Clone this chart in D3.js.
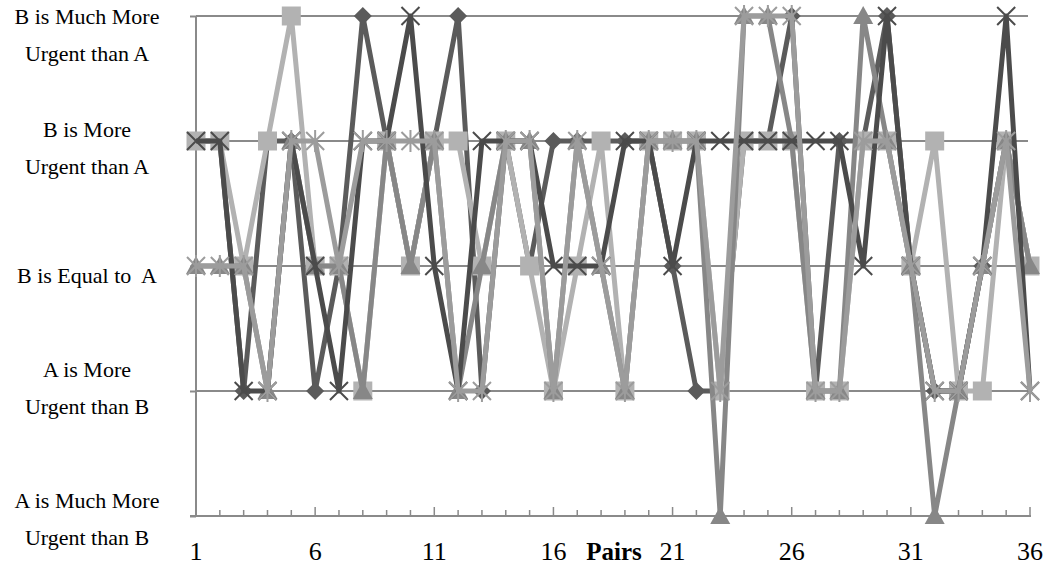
<!DOCTYPE html>
<html>
<head>
<meta charset="utf-8">
<script src="https://cdn.jsdelivr.net/npm/d3@7"></script>
<style>
  html, body { margin: 0; padding: 0; background: #fff; }
  svg { display: block; }
  text { font-family: "Liberation Serif", "Times New Roman", serif; fill: #000; }
</style>
</head>
<body>
<svg id="chart" width="1051" height="565"></svg>
<script>
// Pair numbers along the horizontal axis
const pairs = [1,2,3,4,5,6,7,8,9,10,11,12,13,14,15,16,17,18,19,20,21,22,23,24,25,26,27,28,29,30,31,32,33,34,35,36];
const pairTicks = [1,6,11,16,21,26,31,36];

// Rating scale: 1 = A much more urgent ... 5 = B much more urgent
const levels = [1,2,3,4,5];
const levelLabels = [
  ["A is Much More", "Urgent than B"],
  ["A is More", "Urgent than B"],
  ["B is Equal to  A"],
  ["B is More", "Urgent than A"],
  ["B is Much More", "Urgent than A"]
];

// One rating per pair for each respondent
const diamondSeries = [4,4,2,4,4,2,3,5,4,3,4,5,2,4,3,4,4,4,4,4,3,2,2,4,4,5,2,4,4,5,3,2,2,3,4,3];
const squareSeries  = [4,4,3,4,5,3,3,2,4,3,4,4,3,4,3,2,3,4,2,4,4,4,2,4,4,4,2,2,4,4,3,4,2,2,4,3];
const triangleSeries= [3,3,3,2,4,3,3,2,4,3,4,2,3,4,4,2,4,3,2,4,4,4,1,5,5,4,2,2,5,4,3,1,2,3,4,3];
const crossSeries   = [4,4,2,2,4,3,2,4,4,5,3,2,4,4,4,3,3,3,4,4,3,4,4,4,4,4,4,4,3,5,3,2,2,3,5,2];
const starSeries    = [3,3,3,2,4,4,3,4,4,4,4,2,2,4,4,2,4,3,2,4,4,4,2,5,5,5,2,2,4,4,3,2,2,3,4,2];

const series = [
  { values: diamondSeries,  marker: "diamond",  color: "#5b5b5b" },
  { values: squareSeries,   marker: "square",   color: "#b2b2b2" },
  { values: triangleSeries, marker: "triangle", color: "#878787" },
  { values: crossSeries,    marker: "cross",    color: "#4b4b4b" },
  { values: starSeries,     marker: "star",     color: "#9c9c9c" }
];

const svg = d3.select("#chart");
const plot = { left: 196, right: 1030, top: 16, bottom: 516 };

const x = d3.scaleLinear().domain([1, 36]).range([plot.left, plot.right]);
const y = d3.scaleLinear().domain([1, 5]).range([plot.bottom, plot.top]);

const axisColor = "#8a8a8a";

// Horizontal gridlines at each rating level
svg.append("g")
  .selectAll("line")
  .data(levels.filter(l => l > 1))
  .join("line")
  .attr("x1", plot.left).attr("x2", plot.right - 2)
  .attr("y1", d => y(d)).attr("y2", d => y(d))
  .attr("stroke", axisColor).attr("stroke-width", 2);

// Vertical axis with outward ticks
const yAxis = d3.axisLeft(y).tickValues(levels).tickSize(6).tickFormat("");
const gy = svg.append("g").attr("transform", `translate(${plot.left},0)`).call(yAxis);
gy.select(".domain").attr("stroke", axisColor).attr("stroke-width", 2).attr("d", `M0,${plot.top}V${plot.bottom}`);
gy.selectAll(".tick line").attr("stroke", axisColor).attr("stroke-width", 2);

// Horizontal axis with inward ticks, longer on labelled pairs
const gx = svg.append("g").attr("transform", `translate(0,${plot.bottom})`);
gx.append("line")
  .attr("x1", plot.left - 6).attr("x2", plot.right + 1)
  .attr("y1", 0).attr("y2", 0)
  .attr("stroke", axisColor).attr("stroke-width", 2);
gx.selectAll("line.tick")
  .data(pairs)
  .join("line")
  .attr("class", "tick")
  .attr("x1", d => x(d)).attr("x2", d => x(d))
  .attr("y1", 0).attr("y2", d => pairTicks.includes(d) ? -9 : -6)
  .attr("stroke", axisColor).attr("stroke-width", 1.5);
gx.selectAll("text")
  .data(pairTicks)
  .join("text")
  .attr("x", d => x(d)).attr("y", 44)
  .attr("text-anchor", "middle")
  .attr("font-size", 26)
  .text(d => d);

// Axis title sits between 16 and 21
svg.append("text")
  .attr("x", (x(16) + x(21)) / 2 + 1)
  .attr("y", plot.bottom + 44)
  .attr("text-anchor", "middle")
  .attr("font-size", 25)
  .attr("font-weight", "bold")
  .text("Pairs");

// Rating labels on the left, wrapped over two lines
const labelShift = [3, -3, 10, 7, 19];
const lineGap = 37;
const labelGroup = svg.append("g");
levels.forEach((lv, i) => {
  const lines = levelLabels[i];
  const centre = y(lv) + labelShift[i];
  const first = centre - (lines.length - 1) * lineGap / 2;
  lines.forEach((t, j) => {
    labelGroup.append("text")
      .attr("x", 87)
      .attr("y", first + j * lineGap + 7)
      .attr("text-anchor", "middle")
      .attr("font-size", 22)
      .style("white-space", "pre")
      .text(t);
  });
});

// Marker shapes
const markerPath = {
  diamond: "M0,-9L9,0L0,9L-9,0Z",
  square: "M-9.5,-9.5H9.5V9.5H-9.5Z",
  triangle: "M0,-10L10,8L-10,8Z",
  cross: "M-9,-9L9,9M9,-9L-9,9",
  star: "M-9,-9L9,9M9,-9L-9,9M0,-11V11"
};

const line = d3.line().x((d, i) => x(pairs[i])).y(d => y(d));

series.forEach(s => {
  const g = svg.append("g");
  g.append("path")
    .attr("d", line(s.values))
    .attr("fill", "none")
    .attr("stroke", s.color)
    .attr("stroke-width", 5)
    .attr("stroke-linejoin", "round");
  const stroked = s.marker === "cross" || s.marker === "star";
  g.selectAll("path.m")
    .data(s.values)
    .join("path")
    .attr("class", "m")
    .attr("transform", (d, i) => `translate(${x(pairs[i])},${y(d)})`)
    .attr("d", markerPath[s.marker])
    .attr("fill", stroked ? "none" : s.color)
    .attr("stroke", s.color)
    .attr("stroke-width", stroked ? 2 : 0);
});
</script>
</body>
</html>
